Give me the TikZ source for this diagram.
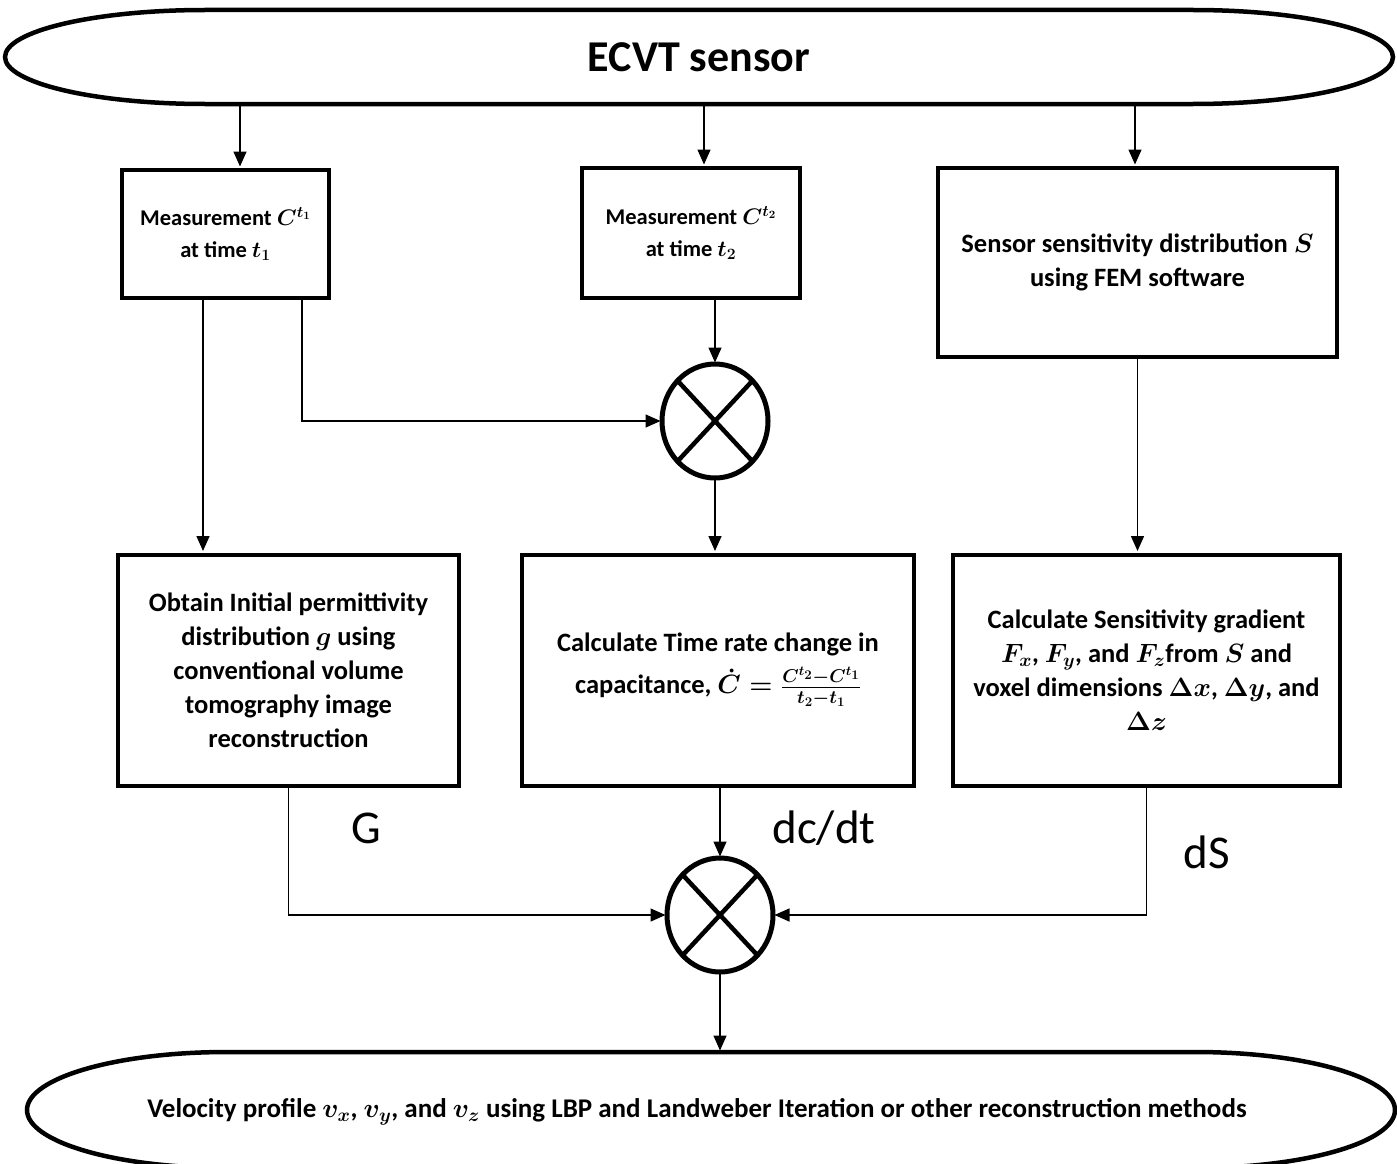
\RequirePackage{fix-cm}
\documentclass[tikz,border=0pt]{standalone}
\usepackage{amsmath}
\usepackage{bm}
\usepackage{fontspec}
\setmainfont{Carlito}
\usetikzlibrary{arrows.meta,shapes.geometric}
\begin{document}
\begin{tikzpicture}[x=1pt,y=-1pt,
  box/.style={draw,line width=4pt,rectangle,inner sep=0pt,align=center,
    font=\fontsize{26.5}{34}\selectfont\bfseries\boldmath},
  smallbox/.style={box,font=\fontsize{22.5}{32}\selectfont\bfseries\boldmath},
  arr/.style={line width=1.5pt,-{Triangle[length=15pt,width=13pt]},shorten >=1.5pt},
  mult/.style={draw,ellipse,line width=5pt,minimum width=106pt,minimum height=114pt,inner sep=0pt,outer sep=0pt},
  xline/.style={line width=4.5pt},
  term/.style={draw=none,inner sep=0pt,outer sep=0pt},
  termline/.style={line width=4.5pt},
  lbl/.style={font=\fontsize{47}{56}\selectfont}
]
\useasboundingbox (0,0) rectangle (1397,1164);

% top terminator
\node[term,minimum width=1388pt,minimum height=94pt,font=\fontsize{44}{50}\selectfont\bfseries] (top) at (699,57) {ECVT sensor};
\draw[termline] ([xshift=200pt]top.north west) -- ([xshift=-200pt]top.north east)
  arc[start angle=90,end angle=-90,x radius=200pt,y radius=47pt]
  -- ([xshift=200pt]top.south west)
  arc[start angle=270,end angle=90,x radius=200pt,y radius=47pt] -- cycle;

% bottom terminator
\node[term,minimum width=1368pt,minimum height=116pt] (bot) at (711,1110) {};
\draw[termline] ([xshift=200pt]bot.north west) -- ([xshift=-200pt]bot.north east)
  arc[start angle=90,end angle=-90,x radius=200pt,y radius=58pt]
  -- ([xshift=200pt]bot.south west)
  arc[start angle=270,end angle=90,x radius=200pt,y radius=58pt] -- cycle;
\node[term,font=\fontsize{27}{32}\selectfont\bfseries\boldmath] (bottext) at (697,1112)
  {Velocity profile $\bm{v_x}$, $\bm{v_y}$, and $\bm{v_z}$ using LBP and Landweber Iteration or other reconstruction methods};

% boxes
\node[smallbox,minimum width=207pt,minimum height=128pt] (box1) at (225.5,234)
  {Measurement $\bm{C^{t_1}}$\\at time $\bm{t_1}$};
\node[smallbox,minimum width=218pt,minimum height=130pt] (box2) at (691,233)
  {Measurement $\bm{C^{t_2}}$\\at time $\bm{t_2}$};
\node[box,minimum width=399pt,minimum height=189pt] (box3) at (1137.5,262.5)
  {Sensor sensitivity distribution $\bm{S}$\\using FEM software};
\node[box,minimum width=341pt,minimum height=231pt] (box4) at (288.5,670)
  {Obtain Initial permittivity\\distribution $\bm{g}$ using\\conventional volume\\tomography image\\reconstruction};
\node[box,minimum width=392pt,minimum height=231pt] (box5) at (718,670)
  {Calculate Time rate change in\\[8pt]capacitance, $\bm{\dot{C}=\frac{C^{t_2}-C^{t_1}}{t_2-t_1}}$};
\node[box,minimum width=387pt,minimum height=231pt] (box6) at (1146.5,670)
  {Calculate Sensitivity gradient\\$\bm{F_x}$, $\bm{F_y}$, and $\bm{F_z}$from $\bm{S}$ and\\voxel dimensions $\bm{\Delta x}$, $\bm{\Delta y}$, and\\$\bm{\Delta z}$};

% multipliers
\node[mult] (c1) at (715,421) {};
\draw[xline] (c1.north west) -- (c1.south east) (c1.north east) -- (c1.south west);
\node[mult] (c2) at (720,915) {};
\draw[xline] (c2.north west) -- (c2.south east) (c2.north east) -- (c2.south west);

% labels
\node[lbl] (G) at (366,828) {G};
\node[lbl] (dcdt) at (824,828) {dc/dt};
\node[lbl] (dS) at (1207,852) {dS};

% connectors
\coordinate (p1) at (240,0);
\coordinate (p2) at (704,0);
\coordinate (p3) at (1135,0);
\coordinate (q1) at (203,0);
\coordinate (q2) at (302,0);
\draw[arr] (top.south -| p1) -- (box1.north -| p1);
\draw[arr] (top.south -| p2) -- (box2.north -| p2);
\draw[arr] (top.south -| p3) -- (box3.north -| p3);
\draw[arr] (box1.south -| q1) -- (box4.north -| q1);
\draw[arr] (box1.south -| q2) |- (c1.west);
\draw[arr] (box2.south -| c1) -- (c1.north);
\draw[arr] (c1.south) -- (box5.north -| c1);
\draw[arr] (box3.south) -- (box3.south |- box6.north);
\draw[arr] (box4.south) |- (c2.west);
\draw[arr] (box5.south -| c2) -- (c2.north);
\draw[arr] (box6.south) |- (c2.east);
\draw[arr] (c2.south) -- (bot.north -| c2);
\end{tikzpicture}
\end{document}
